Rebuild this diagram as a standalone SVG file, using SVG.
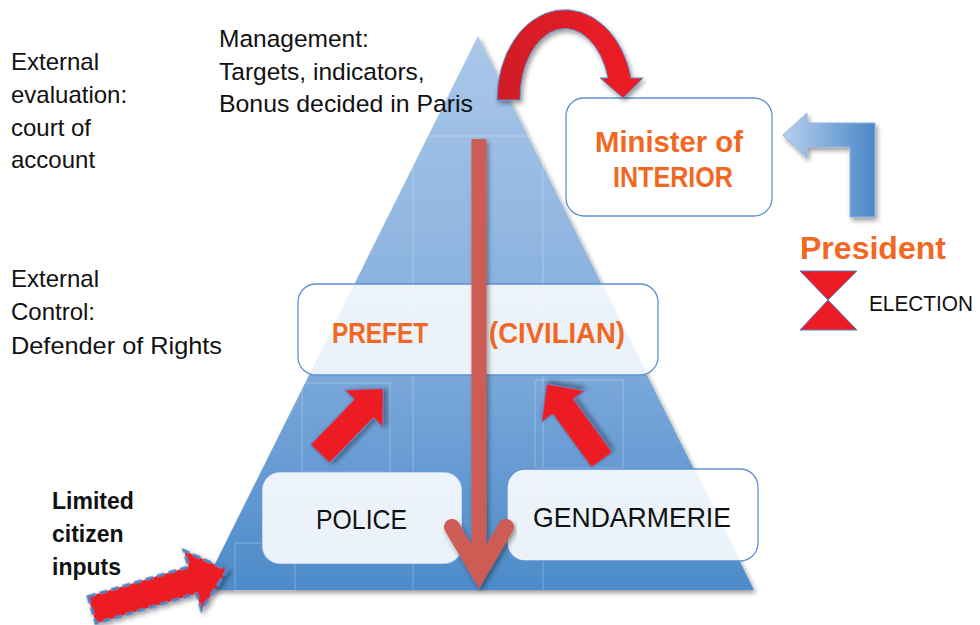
<svg xmlns="http://www.w3.org/2000/svg" width="980" height="625" viewBox="0 0 980 625">
<defs>
  <linearGradient id="triGrad" x1="0" y1="36" x2="0" y2="590" gradientUnits="userSpaceOnUse">
    <stop offset="0" stop-color="#aac7e9"/>
    <stop offset="0.5" stop-color="#87b0de"/>
    <stop offset="1" stop-color="#4d8bca"/>
  </linearGradient>
  <linearGradient id="bentGrad" x1="783" y1="0" x2="875" y2="0" gradientUnits="userSpaceOnUse">
    <stop offset="0" stop-color="#b8d0ee"/>
    <stop offset="1" stop-color="#4a87c8"/>
  </linearGradient>
  <linearGradient id="curveGrad" x1="497" y1="0" x2="643" y2="0" gradientUnits="userSpaceOnUse">
    <stop offset="0" stop-color="#cf1f28"/>
    <stop offset="0.5" stop-color="#e21d26"/>
    <stop offset="1" stop-color="#ee1c24"/>
  </linearGradient>
  <filter id="shadow" x="-20%" y="-20%" width="140%" height="140%">
    <feGaussianBlur in="SourceAlpha" stdDeviation="2.5"/>
    <feOffset dx="2" dy="3" result="b"/>
    <feComponentTransfer><feFuncA type="linear" slope="0.4"/></feComponentTransfer>
    <feMerge><feMergeNode/><feMergeNode in="SourceGraphic"/></feMerge>
  </filter>
  <style>
    .txt { font-family: "Liberation Sans", Arial, sans-serif; fill: #111; }
    .lbl { font-size: 24px; }
    .org { font-family: "Liberation Sans", Arial, sans-serif; font-weight: bold; fill: #f26722; }
    .box { stroke: #5f93d2; stroke-width: 1.3; }
    .redarr { fill: #ed1c24; stroke: #4f86c6; stroke-width: 1; }
    .faint { fill: none; stroke: #ffffff; stroke-opacity: 0.28; stroke-width: 1; }
  </style>
</defs>
<rect width="980" height="625" fill="#ffffff"/>

<!-- Pyramid -->
<g id="pyramid">
  <polygon points="478,36 754,590 202,590" fill="url(#triGrad)" filter="url(#shadow)"/>
  <line class="faint" x1="408" y1="136" x2="548" y2="136"/>
  <line class="faint" x1="413" y1="136" x2="413" y2="590"/>
  <line class="faint" x1="543" y1="136" x2="543" y2="590"/>
  <rect class="faint" x="302" y="383" width="88" height="89"/>
  <rect class="faint" x="535" y="380" width="88" height="88"/>
  <rect class="faint" x="235" y="543" width="60" height="48"/>
</g>

<!-- Left texts -->
<g id="external-evaluation" class="txt lbl">
  <text x="11" y="70">External</text>
  <text x="11" y="103">evaluation:</text>
  <text x="11" y="136">court of</text>
  <text x="11" y="168">account</text>
</g>
<g id="management" class="txt" font-size="24.5">
  <text x="219" y="47">Management:</text>
  <text x="219" y="80">Targets, indicators,</text>
  <text x="219" y="112" textLength="254" lengthAdjust="spacingAndGlyphs">Bonus decided in Paris</text>
</g>
<g id="external-control" class="txt lbl">
  <text x="11" y="287">External</text>
  <text x="11" y="320">Control:</text>
  <text x="11" y="354" textLength="211" lengthAdjust="spacingAndGlyphs">Defender of Rights</text>
</g>
<g id="citizen-label" class="txt" font-size="23" font-weight="bold">
  <text x="52" y="509">Limited</text>
  <text x="52" y="542">citizen</text>
  <text x="52" y="575">inputs</text>
</g>

<!-- Nodes -->
<g id="minister">
  <rect class="box" x="566" y="98" width="206" height="118" rx="18" fill="#ffffff"/>
  <text class="org" x="595" y="152" font-size="30" textLength="148" lengthAdjust="spacingAndGlyphs">Minister of</text>
  <text class="org" x="613" y="187" font-size="30" textLength="120" lengthAdjust="spacingAndGlyphs">INTERIOR</text>
</g>
<g id="president">
  <text class="org" x="800" y="259" font-size="32" textLength="146" lengthAdjust="spacingAndGlyphs">President</text>
</g>
<g id="election">
  <polygon points="800,271 857,271 828,300" fill="#ed1c24" stroke="#4f86c6" stroke-width="1"/>
  <polygon points="828,300 857,330 800,330" fill="#ed1c24" stroke="#4f86c6" stroke-width="1"/>
  <text class="txt" x="869" y="311" font-size="22" textLength="104" lengthAdjust="spacingAndGlyphs">ELECTION</text>
</g>
<g id="prefet">
  <rect class="box" x="298" y="284" width="360" height="91" rx="18" fill="#ffffff" fill-opacity="0.84"/>
  <text class="org" x="332" y="343" font-size="29" textLength="96" lengthAdjust="spacingAndGlyphs">PREFET</text>
  <text class="org" x="489" y="343" font-size="29" textLength="136" lengthAdjust="spacingAndGlyphs">(CIVILIAN)</text>
</g>
<g id="police">
  <rect class="box" x="262" y="472" width="200" height="92" rx="18" fill="#ffffff" fill-opacity="0.88" stroke-opacity="0.4"/>
  <text class="txt" x="316" y="529" font-size="28" textLength="91" lengthAdjust="spacingAndGlyphs">POLICE</text>
</g>
<g id="gendarmerie">
  <rect class="box" x="507" y="469" width="251" height="92" rx="18" fill="#ffffff" fill-opacity="0.88"/>
  <text class="txt" x="533" y="527" font-size="28" textLength="198" lengthAdjust="spacingAndGlyphs">GENDARMERIE</text>
</g>

<!-- Connectors -->
<g id="connectors">
  <path d="M497,100 A68,90 0 0 1 631,78 L643,78 L623,98 L600,78 L608,78 A45,70 0 0 0 520,100 Z" fill="url(#curveGrad)" stroke="#5b8fcf" stroke-width="1" filter="url(#shadow)"/>
  <path d="M850,217 L875,217 L875,123 L807,123 L807,113 L783,135 L807,158 L807,147 L850,147 Z" fill="url(#bentGrad)" stroke="#8fb3de" stroke-width="1" filter="url(#shadow)"/>
  <g filter="url(#shadow)">
    <line x1="479" y1="139" x2="479" y2="574" stroke="#cd5b55" stroke-width="15"/>
    <polyline points="452,527 479,573 506,527" fill="none" stroke="#cd5b55" stroke-width="16" stroke-linecap="round" stroke-linejoin="miter" stroke-miterlimit="10"/>
  </g>
  <polygon class="redarr" transform="translate(320,454) rotate(-46)" points="0,-13.5 63,-13.5 63,-27 91,0 63,27 63,13.5 0,13.5" filter="url(#shadow)"/>
  <polygon class="redarr" transform="translate(602,460) rotate(-126)" points="0,-13 66,-13 66,-27 94,0 66,27 66,13 0,13" filter="url(#shadow)"/>
  <polygon transform="translate(92,610) rotate(-16.5)" points="0,-14 105,-14 105,-31 141,0 105,31 105,14 0,14" fill="#ed1c24" stroke="#4f86c6" stroke-width="3" stroke-dasharray="8,4" filter="url(#shadow)"/>
</g>
</svg>
